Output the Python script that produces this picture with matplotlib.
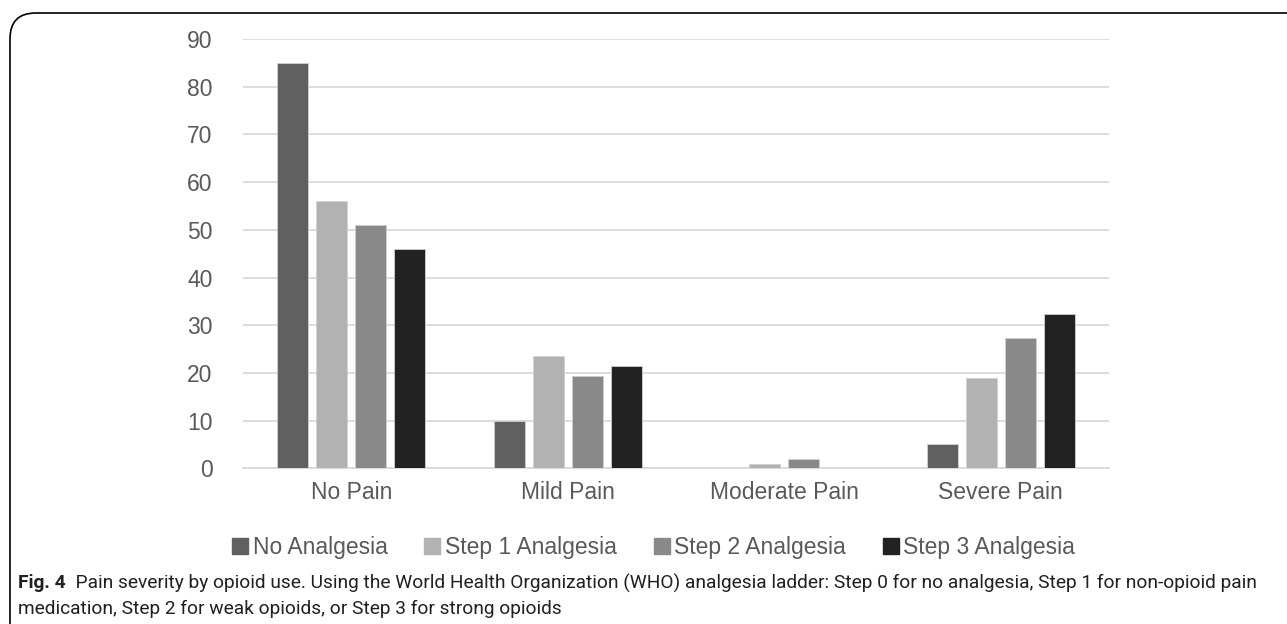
import matplotlib
matplotlib.use('Agg')
import matplotlib.pyplot as plt
import numpy as np
from matplotlib.patches import FancyBboxPatch
from matplotlib.lines import Line2D

categories = ['No Pain', 'Mild Pain', 'Moderate Pain', 'Severe Pain']
series_names = ['No Analgesia', 'Step 1 Analgesia', 'Step 2 Analgesia', 'Step 3 Analgesia']
no_analgesia = [85, 10, 0, 5]
step1 = [56, 23.5, 0.9, 19]
step2 = [51, 19.3, 1.9, 27.4]
step3 = [46, 21.5, 0, 32.3]
colors = ['#606060', '#b2b2b2', '#898989', '#222222']
yticks = [0, 10, 20, 30, 40, 50, 60, 70, 80, 90]

caption_bold = 'Fig. 4'
caption_rest = ('  Pain severity by opioid use. Using the World Health Organization (WHO) '
                'analgesia ladder: Step 0 for no analgesia, Step 1 for non-opioid pain')
caption_line2 = 'medication, Step 2 for weak opioids, or Step 3 for strong opioids'

plt.rcParams['font.family'] = ['Liberation Sans', 'DejaVu Sans']

fig = plt.figure(figsize=(12.87, 6.24), dpi=100)
ax = fig.add_axes([0.1888, 0.2495, 0.6729, 0.688])

x = np.arange(len(categories))
width = 0.143
step = 0.18
for i, (vals, col) in enumerate(zip([no_analgesia, step1, step2, step3], colors)):
    ax.bar(x + (i - 1.5) * step, vals, width, color=col, edgecolor='#d0d0d0',
           linewidth=0.6, zorder=3, label=series_names[i])

ax.set_xlim(-0.5, 3.5)
ax.set_ylim(0, 90)
ax.set_yticks(yticks)
ax.set_xticks(x)
ax.set_xticklabels(categories)
ax.yaxis.grid(True, color='#d9d9d9', linewidth=1.3, zorder=0)
ax.set_axisbelow(True)
for s in ['top', 'right', 'left']:
    ax.spines[s].set_visible(False)
ax.spines['bottom'].set_color('#d9d9d9')
ax.spines['bottom'].set_linewidth(1.3)
ax.tick_params(axis='both', length=0, labelsize=16.5, labelcolor='#595959')
ax.tick_params(axis='y', pad=22)
ax.tick_params(axis='x', pad=9)

handles = [Line2D([], [], marker='s', linestyle='none', markersize=11,
                  markerfacecolor=c, markeredgecolor=c) for c in colors]
fig.legend(handles, series_names, loc='center', bbox_to_anchor=(0.507, 0.122),
           ncol=4, frameon=False, fontsize=16.5, labelcolor='#595959',
           handletextpad=0.1, columnspacing=1.5, handlelength=0.9)

# caption below the chart
cap_font = ['Roboto', 'Liberation Sans', 'DejaVu Sans']
t_bold = fig.text(0.014, 1 - 583 / 624, caption_bold, fontsize=13.8, fontweight='bold',
                  family=cap_font, va='center', color='#231f20')
ax.annotate(caption_rest, xy=(1, 0.5), xycoords=t_bold, va='center', ha='left',
            fontsize=13.8, family=cap_font, color='#231f20', annotation_clip=False)
fig.text(0.014, 1 - 609 / 624, caption_line2, fontsize=13.8, family=cap_font,
         va='center', color='#231f20')

# rounded frame opening off the right and bottom edges
frame = FancyBboxPatch((10 / 1287, -0.2), 1.2, 1.2 - 13 / 624,
                       boxstyle='round,pad=0,rounding_size=0.02',
                       transform=fig.transFigure, fill=False,
                       edgecolor='black', linewidth=1.2, mutation_aspect=1287 / 624)
fig.patches.append(frame)

fig.savefig('out.png', dpi=100)
